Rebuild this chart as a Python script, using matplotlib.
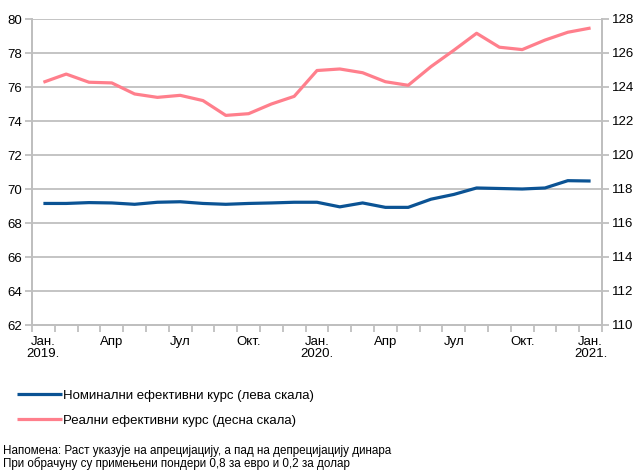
import matplotlib
matplotlib.use("Agg")
import matplotlib.pyplot as plt
from matplotlib.ticker import FixedLocator

plt.rcParams["font.family"] = ["Liberation Sans", "DejaVu Sans"]

# monthly data, Jan 2019 - Jan 2021
months = list(range(25))
nominal = [69.15, 69.15, 69.2, 69.18, 69.1, 69.22, 69.25, 69.15, 69.1, 69.15,
           69.18, 69.22, 69.22, 68.95, 69.18, 68.92, 68.92, 69.4, 69.68, 70.06,
           70.03, 70.0, 70.06, 70.49, 70.47]
real = [124.28, 124.76, 124.28, 124.24, 123.59, 123.39, 123.51, 123.2, 122.33,
        122.43, 123.0, 123.45, 124.97, 125.06, 124.84, 124.31, 124.1, 125.2,
        126.16, 127.16, 126.34, 126.2, 126.76, 127.22, 127.47]
label_pos = [0, 3, 6, 9, 12, 15, 18, 21, 24]
labels = ["Јан.\n2019.", "Апр", "Јул", "Окт.", "Јан.\n2020.", "Апр", "Јул",
          "Окт.", "Јан.\n2021."]
names = ["Номинални ефективни курс (лева скала)",
         "Реални ефективни курс (десна скала)"]
note = ("Напомена: Раст указује на апрецијацију, а пад на депрецијацију динара\n"
        "При обрачуну су примењени пондери 0,8 за евро и 0,2 за долар")

blue = "#0B5394"
pink = "#FF7F8C"
grey = "#BFBFBF"

fig = plt.figure(figsize=(6.36, 4.73), dpi=100)
ax = fig.add_axes([32 / 636, 1 - 325 / 473, 570 / 636, 306 / 473])
ax2 = ax.twinx()

l1, = ax.plot(months, nominal, color=blue, lw=2.3, solid_capstyle="butt", zorder=3)
l2, = ax2.plot(months, real, color=pink, lw=2.3, solid_capstyle="butt", zorder=3)

ax.set_xlim(-0.5, 24.5)
ax.set_ylim(62, 80)
ax2.set_ylim(110, 128)
ax.set_yticks(range(62, 81, 2))
ax2.set_yticks(range(110, 129, 2))
ax.yaxis.grid(True, color=grey, lw=1.3)
ax.set_axisbelow(True)

ax.set_xticks(label_pos)
ax.set_xticklabels(labels, fontsize=9.5, linespacing=1.0)
ax.tick_params(axis="x", which="major", length=0, pad=8)
ax.xaxis.set_minor_locator(FixedLocator([i - 0.5 for i in range(26)]))
ax.tick_params(axis="x", which="minor", length=5, color=grey, width=1.3)
ax.tick_params(axis="y", length=5, color=grey, width=1.3, labelsize=9.5, pad=2)
ax2.tick_params(axis="y", length=5, color=grey, width=1.3, labelsize=9.5, pad=2)

for a in (ax, ax2):
    a.spines["top"].set_visible(False)
    for s in ("left", "right", "bottom"):
        a.spines[s].set_color(grey)
        a.spines[s].set_linewidth(1.3)

fig.legend([l1, l2], names, loc="upper left", bbox_to_anchor=(12 / 636, 1 - 384 / 473),
           frameon=False, fontsize=9.5, handlelength=3.4, handletextpad=0.1,
           labelspacing=1.0, borderaxespad=0)

fig.text(3 / 636, 1 - 445 / 473, note, fontsize=8.4, va="top", ha="left",
         linespacing=1.0)

fig.savefig("out.png", dpi=100)
